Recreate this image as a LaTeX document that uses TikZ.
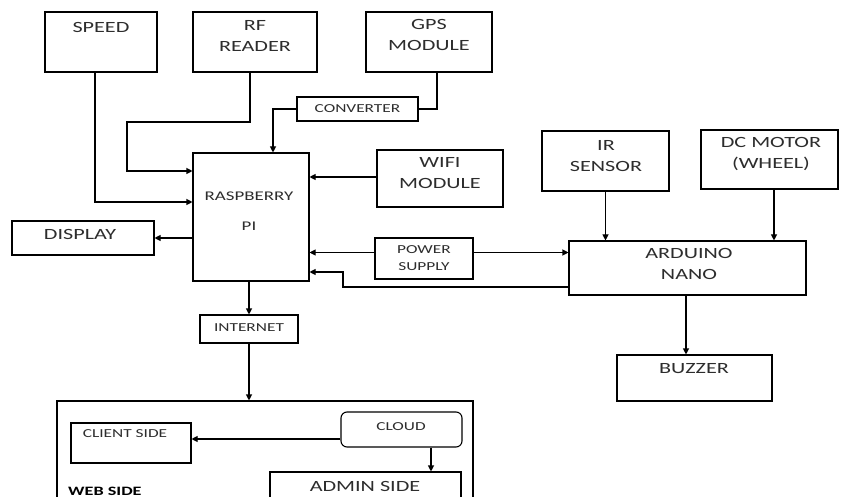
\documentclass[tikz,border=0pt]{standalone}
\usepackage{fontspec}
\setmainfont{Carlito}[FakeStretch=1.42]
\usetikzlibrary{arrows.meta}
\definecolor{txt}{RGB}{45,45,45}
\begin{document}
\begin{tikzpicture}[x=1pt,y=-1pt,
  box/.style={draw=black,line width=1.1pt,inner sep=0pt},
  lbl/.style={text=txt,align=center,inner sep=0pt,font=\fontsize{15.6}{21}\selectfont},
  mid/.style={text=txt,align=center,inner sep=0pt,font=\fontsize{13.3}{30}\selectfont},
  sml/.style={text=txt,align=center,inner sep=0pt,font=\fontsize{12.2}{17}\selectfont},
  arr/.style={draw=black,line width=1.1pt,-{Triangle[length=6pt,width=6pt]}},
  ln/.style={draw=black,line width=1.1pt}]
\useasboundingbox (0,0) rectangle (841,497);
\clip (0,0) rectangle (841,497);
\fill[white] (0,0) rectangle (841,497);
% boxes
\node[box,minimum width=112pt,minimum height=60pt] (speed) at (101,42) {};
\node[box,minimum width=124pt,minimum height=60pt] (rf) at (255,42) {};
\node[box,minimum width=126pt,minimum height=60pt] (gps) at (429,42) {};
\node[box,minimum width=121pt,minimum height=24pt] (conv) at (357.5,109) {};
\node[box,minimum width=116pt,minimum height=128pt] (rpi) at (251,217) {};
\node[box,minimum width=142pt,minimum height=34pt] (disp) at (83,238) {};
\node[box,minimum width=126pt,minimum height=57pt] (wifi) at (440,178.5) {};
\node[box,minimum width=98pt,minimum height=41pt] (ps) at (424,258.5) {};
\node[box,minimum width=237pt,minimum height=54pt] (ard) at (687.5,268) {};
\node[box,minimum width=127pt,minimum height=60pt] (ir) at (605.5,161) {};
\node[box,minimum width=137pt,minimum height=59pt] (dc) at (769.5,159.5) {};
\node[box,minimum width=155pt,minimum height=46pt] (buz) at (694.5,378) {};
\node[box,minimum width=98pt,minimum height=28pt] (inet) at (249,329) {};
\node[box,minimum width=416pt,minimum height=119pt] (web) at (265,460.5) {};
\node[box,minimum width=120pt,minimum height=40pt] (client) at (131,443) {};
\node[box,rounded corners=6pt,minimum width=121pt,minimum height=35pt] (cloud) at (401.5,429.5) {};
\node[box,minimum width=191pt,minimum height=48pt] (admin) at (365.5,496) {};
% labels
\node[lbl] (tspeed) at (101,27) {SPEED};
\node[lbl] (trf) at (255,36) {RF\\READER};
\node[lbl] (tgps) at (429,35) {GPS\\MODULE};
\node[sml] (tconv) at (357.5,109) {CONVERTER};
\node[lbl] (twifi) at (440,173) {WIFI\\MODULE};
\node[mid] (trpi) at (249,211) {RASPBERRY\\PI};
\node[lbl] (tdisp) at (80,234) {DISPLAY};
\node[sml] (tps) at (424,258.5) {POWER\\SUPPLY};
\node[lbl] (tir) at (606,156) {IR\\SENSOR};
\node[lbl] (tdc) at (771,154) {DC MOTOR\\(WHEEL)};
\node[lbl] (tard) at (689,264) {ARDUINO\\NANO};
\node[lbl] (tbuz) at (694,369) {BUZZER};
\node[sml] (tinet) at (249,328) {INTERNET};
\node[sml] (tclient) at (125,434) {CLIENT SIDE};
\node[sml] (tcloud) at (401,427) {CLOUD};
\node[lbl] (tadmin) at (365,486) {ADMIN SIDE};
\node[text=black,inner sep=0pt,text depth=0pt,anchor=base west,font=\fontsize{12.8}{16}\selectfont\bfseries] (tweb) at (68,495.5) {WEB SIDE};
% helper coordinates
\coordinate (k1) at (343,272);
\coordinate (k2) at (127,122);
% connectors
\draw[arr] ([xshift=-6pt]speed.south) |- ([yshift=15pt]rpi.west);
\draw[arr] ([xshift=-5pt]rf.south) |- (k2) |- ([yshift=46pt]rpi.west);
\draw[ln] ([xshift=8pt]gps.south) |- (conv.east);
\draw[arr] (conv.west) -| ([xshift=22pt]rpi.north);
\draw[arr] ([yshift=1.5pt]wifi.west) -- ([yshift=1.5pt]wifi.west -| rpi.east);
\draw[arr] (disp.east -| rpi.west) -- (disp.east);
\draw[arr] ([yshift=6pt]ps.west) -- ([yshift=6pt]ps.west -| rpi.east);
\draw[arr] ([yshift=6pt]ps.east) -- ([yshift=6pt]ps.east -| ard.west);
\draw[arr] ([yshift=-19pt]ard.west) -| (k1) -- (k1 -| rpi.east);
\draw[arr] (ir.south) -- (ir.south |- ard.north);
\draw[arr] ([xshift=4.5pt]dc.south) -- ([xshift=4.5pt]dc.south |- ard.north);
\draw[arr] ([xshift=-1.5pt]ard.south) -- ([xshift=-1.5pt]ard.south |- buz.north);
\draw[arr] (inet.north |- rpi.south) -- (inet.north);
\draw[arr] (inet.south) -- (inet.south |- web.north);
\draw[arr] ([yshift=-9.5pt]cloud.west) -- ([yshift=-9.5pt]cloud.west -| client.east);
\draw[arr] ([xshift=29.5pt]cloud.south) -- ([xshift=29.5pt]cloud.south |- admin.north);
\end{tikzpicture}
\end{document}
